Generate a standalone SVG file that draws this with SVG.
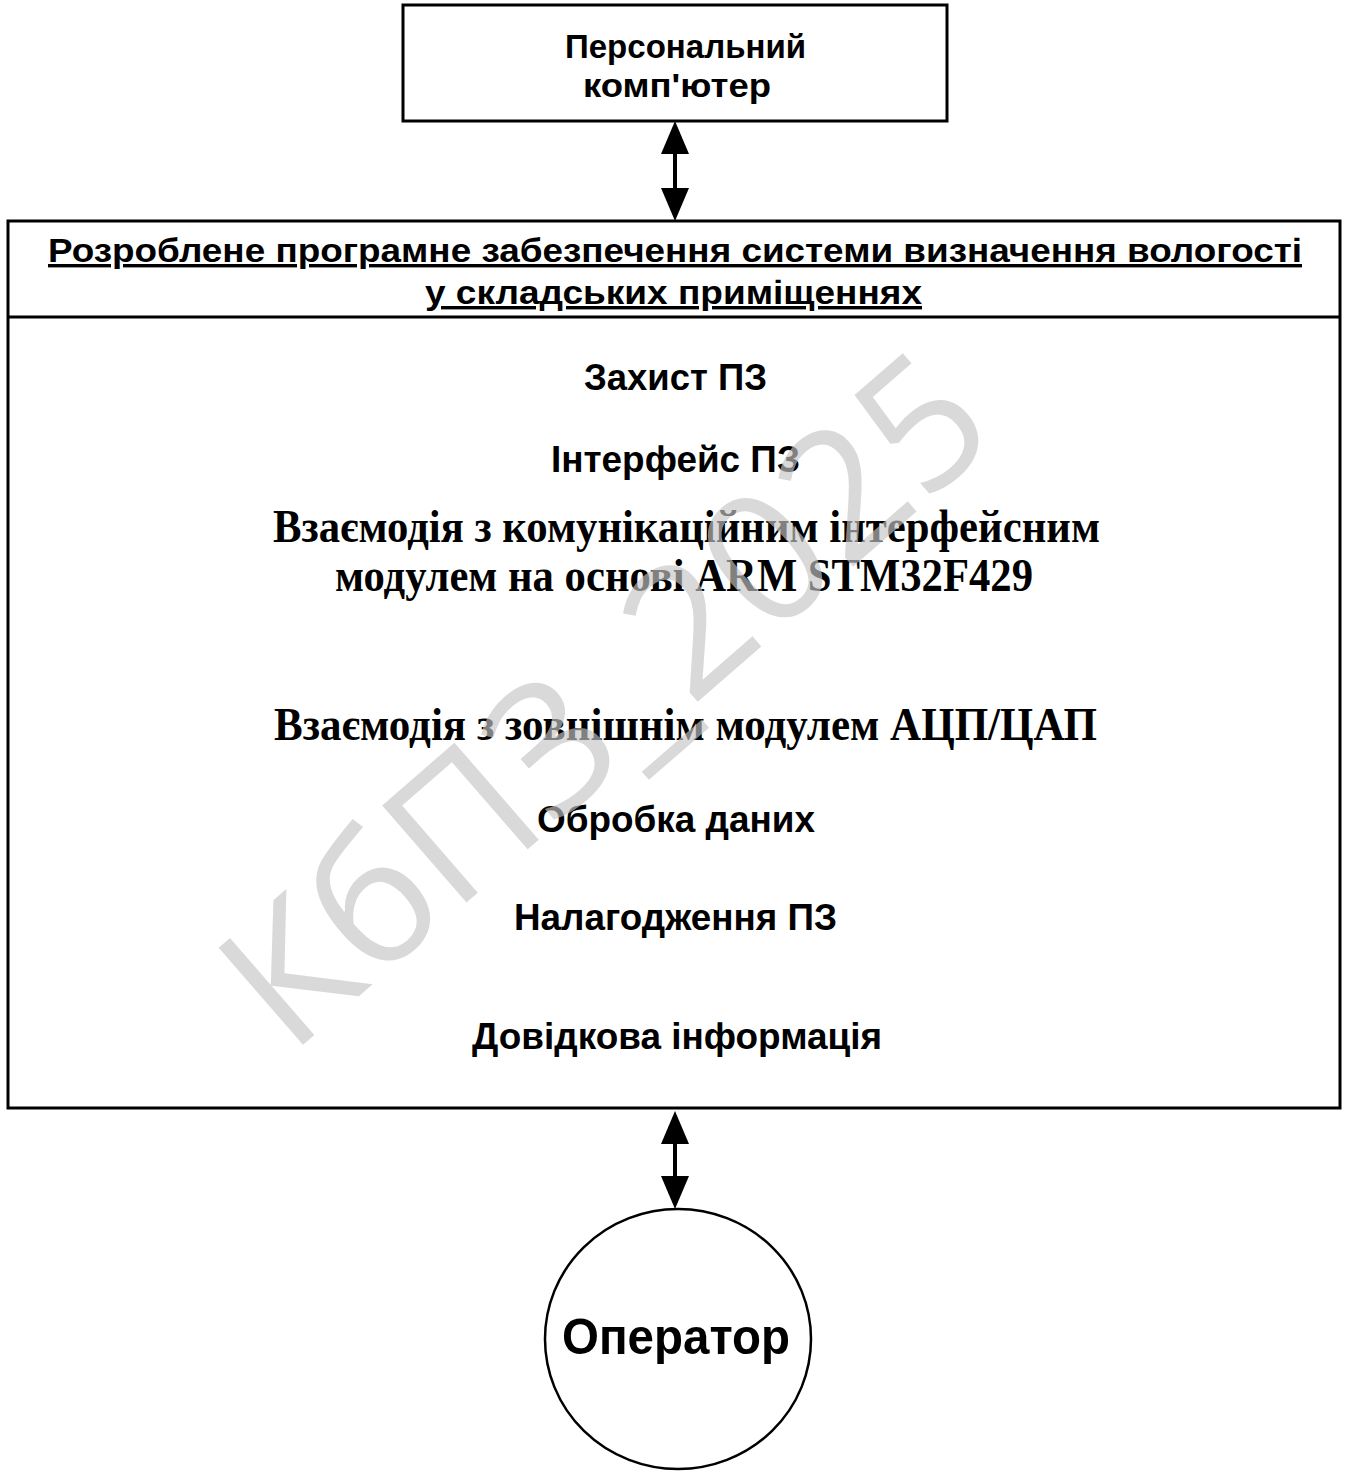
<svg xmlns="http://www.w3.org/2000/svg" width="1346" height="1472" viewBox="0 0 1346 1472">
<style>
.box{fill:#fff;stroke:#000;stroke-width:3}
.sans{font-family:"Liberation Sans",Arial,sans-serif;font-weight:bold;fill:#000}
.serif{font-family:"Liberation Serif","Times New Roman",serif;font-weight:bold;fill:#000}
.conn{stroke:#000;stroke-width:4;fill:none}
.wm{font-family:"Open Sans","Liberation Sans",sans-serif;fill:#c5c5c5;fill-opacity:0.65}
</style>
<defs>
<marker id="ah" markerUnits="userSpaceOnUse" markerWidth="34" markerHeight="28" viewBox="0 0 33 28" refX="3" refY="14" orient="auto-start-reverse">
<path d="M0,0 L33,14 L0,28 z" fill="#000"/>
</marker>
</defs>
<rect width="1346" height="1472" fill="#fff"/>
<g id="pc">
<rect class="box" x="403" y="5" width="544" height="116"/>
<text class="sans" x="565" y="58" font-size="33" textLength="241" lengthAdjust="spacingAndGlyphs">Персональний</text>
<text class="sans" x="583" y="97" font-size="33" textLength="188" lengthAdjust="spacingAndGlyphs">комп'ютер</text>
</g>
<g id="software">
<rect class="box" x="8" y="221" width="1332" height="887"/>
<line x1="8" y1="317" x2="1340" y2="317" stroke="#000" stroke-width="3"/>
<text class="sans" x="48" y="262" font-size="34" text-decoration="underline" textLength="1254" lengthAdjust="spacingAndGlyphs">Розроблене програмне забезпечення системи визначення вологості</text>
<text class="sans" x="425" y="304" font-size="34" text-decoration="underline" textLength="497" lengthAdjust="spacingAndGlyphs">у складських приміщеннях</text>
<text class="sans" x="584" y="390" font-size="36" textLength="183" lengthAdjust="spacingAndGlyphs">Захист ПЗ</text>
<text class="sans" x="551" y="472" font-size="36" textLength="249" lengthAdjust="spacingAndGlyphs">Інтерфейс ПЗ</text>
<text class="serif" x="273" y="542" font-size="46" textLength="827" lengthAdjust="spacingAndGlyphs">Взаємодія з комунікаційним інтерфейсним</text>
<text class="serif" x="335" y="591" font-size="46" textLength="698" lengthAdjust="spacingAndGlyphs">модулем на основі ARM STM32F429</text>
<text class="serif" x="274" y="740" font-size="46" textLength="823" lengthAdjust="spacingAndGlyphs">Взаємодія з зовнішнім модулем АЦП/ЦАП</text>
<text class="sans" x="537" y="832" font-size="36" textLength="278" lengthAdjust="spacingAndGlyphs">Обробка даних</text>
<text class="sans" x="514" y="930" font-size="36" textLength="323" lengthAdjust="spacingAndGlyphs">Налагодження ПЗ</text>
<text class="sans" x="472" y="1049" font-size="36" textLength="410" lengthAdjust="spacingAndGlyphs">Довідкова інформація</text>
</g>
<g id="operator">
<ellipse cx="678" cy="1339" rx="133" ry="130" fill="#fff" stroke="#000" stroke-width="2.5"/>
<text class="sans" x="562" y="1354" font-size="50" textLength="228" lengthAdjust="spacingAndGlyphs">Оператор</text>
</g>
<g id="connectors">
<line class="conn" x1="675" y1="151" x2="675" y2="191" marker-start="url(#ah)" marker-end="url(#ah)"/>
<line class="conn" x1="675" y1="1141" x2="675" y2="1179" marker-start="url(#ah)" marker-end="url(#ah)"/>
</g>
<g id="watermark">
<text class="wm" transform="translate(605,700) rotate(-41)" x="0" y="62" font-size="180" text-anchor="middle">КбПЗ_2025</text>
</g>
</svg>
